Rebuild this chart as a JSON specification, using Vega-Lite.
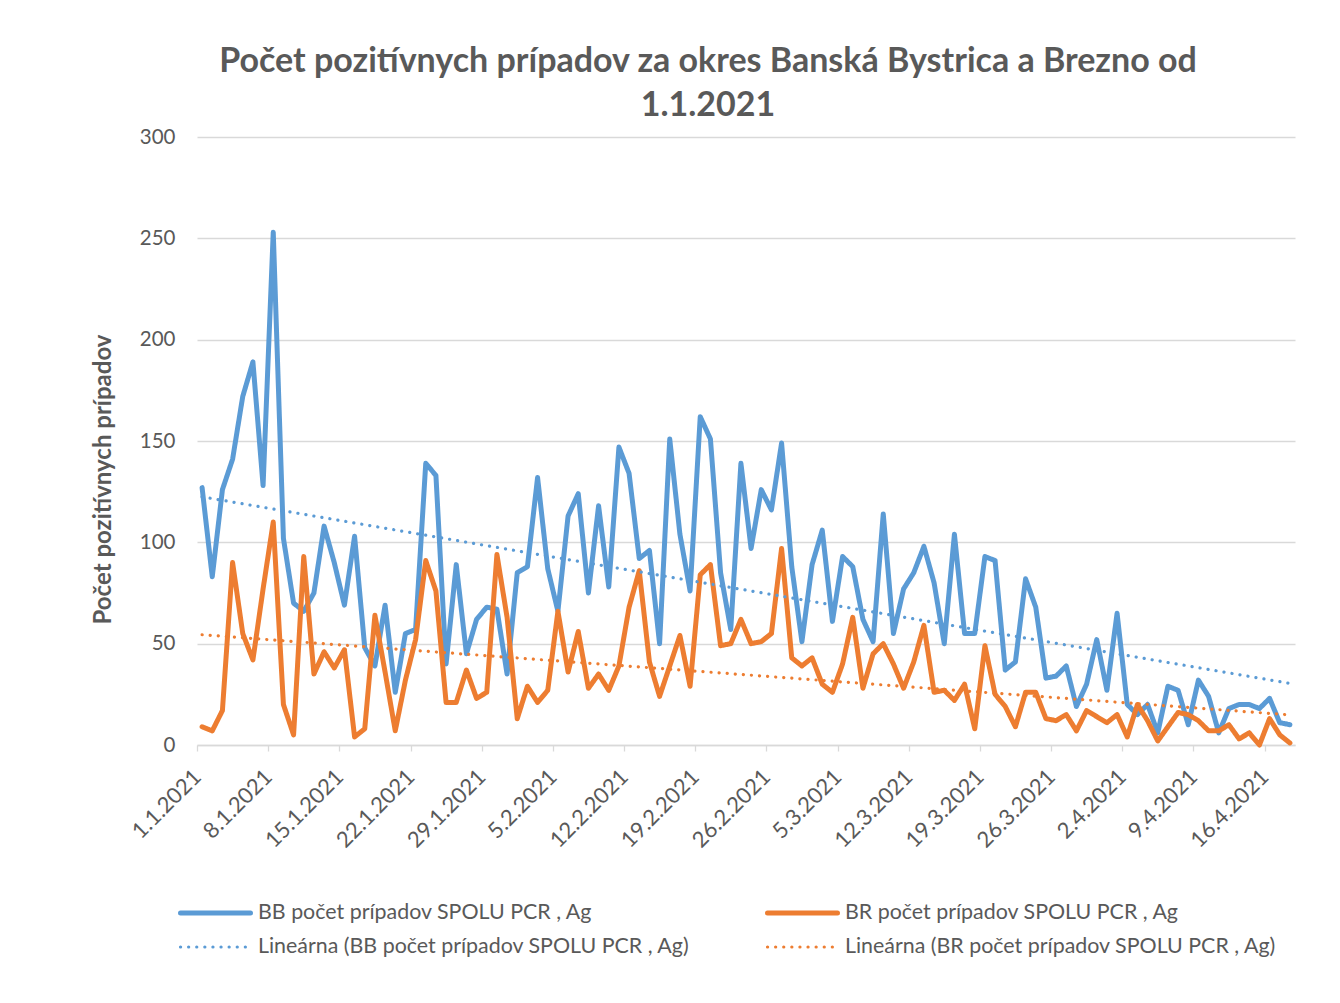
{
"$schema": "https://vega.github.io/schema/vega-lite/v6.json",
"width": 1098, "height": 608,
"autosize": {"type": "none"},
"padding": {"left": 197, "top": 137, "right": 45, "bottom": 258},
"background": "white",
"title": {"text": ["Počet pozitívnych prípadov za okres Banská Bystrica a Brezno od", "1.1.2021"], "font": "Lato", "fontSize": 34, "fontWeight": "bold", "color": "#595959", "anchor": "middle", "dx": -38, "offset": 4, "lineHeight": 44},
"data": {"values": [
{"den":1,"BB":127,"BR":9},{"den":2,"BB":83,"BR":7},{"den":3,"BB":126,"BR":17},{"den":4,"BB":141,"BR":90},{"den":5,"BB":172,"BR":55},{"den":6,"BB":189,"BR":42},{"den":7,"BB":128,"BR":77},{"den":8,"BB":253,"BR":110},{"den":9,"BB":102,"BR":20},{"den":10,"BB":70,"BR":5},
{"den":11,"BB":66,"BR":93},{"den":12,"BB":75,"BR":35},{"den":13,"BB":108,"BR":46},{"den":14,"BB":90,"BR":38},{"den":15,"BB":69,"BR":47},{"den":16,"BB":103,"BR":4},{"den":17,"BB":48,"BR":8},{"den":18,"BB":39,"BR":64},{"den":19,"BB":69,"BR":36},{"den":20,"BB":26,"BR":7},
{"den":21,"BB":55,"BR":32},{"den":22,"BB":57,"BR":52},{"den":23,"BB":139,"BR":91},{"den":24,"BB":133,"BR":76},{"den":25,"BB":40,"BR":21},{"den":26,"BB":89,"BR":21},{"den":27,"BB":45,"BR":37},{"den":28,"BB":62,"BR":23},{"den":29,"BB":68,"BR":26},{"den":30,"BB":67,"BR":94},
{"den":31,"BB":35,"BR":63},{"den":32,"BB":85,"BR":13},{"den":33,"BB":88,"BR":29},{"den":34,"BB":132,"BR":21},{"den":35,"BB":87,"BR":27},{"den":36,"BB":66,"BR":66},{"den":37,"BB":113,"BR":36},{"den":38,"BB":124,"BR":56},{"den":39,"BB":75,"BR":28},{"den":40,"BB":118,"BR":35},
{"den":41,"BB":78,"BR":27},{"den":42,"BB":147,"BR":39},{"den":43,"BB":134,"BR":68},{"den":44,"BB":92,"BR":86},{"den":45,"BB":96,"BR":41},{"den":46,"BB":50,"BR":24},{"den":47,"BB":151,"BR":39},{"den":48,"BB":104,"BR":54},{"den":49,"BB":76,"BR":29},{"den":50,"BB":162,"BR":84},
{"den":51,"BB":151,"BR":89},{"den":52,"BB":85,"BR":49},{"den":53,"BB":57,"BR":50},{"den":54,"BB":139,"BR":62},{"den":55,"BB":97,"BR":50},{"den":56,"BB":126,"BR":51},{"den":57,"BB":116,"BR":55},{"den":58,"BB":149,"BR":97},{"den":59,"BB":88,"BR":43},{"den":60,"BB":51,"BR":39},
{"den":61,"BB":89,"BR":43},{"den":62,"BB":106,"BR":30},{"den":63,"BB":61,"BR":26},{"den":64,"BB":93,"BR":40},{"den":65,"BB":88,"BR":63},{"den":66,"BB":62,"BR":28},{"den":67,"BB":51,"BR":45},{"den":68,"BB":114,"BR":50},{"den":69,"BB":55,"BR":40},{"den":70,"BB":77,"BR":28},
{"den":71,"BB":85,"BR":41},{"den":72,"BB":98,"BR":59},{"den":73,"BB":80,"BR":26},{"den":74,"BB":50,"BR":27},{"den":75,"BB":104,"BR":22},{"den":76,"BB":55,"BR":30},{"den":77,"BB":55,"BR":8},{"den":78,"BB":93,"BR":49},{"den":79,"BB":91,"BR":25},{"den":80,"BB":37,"BR":19},
{"den":81,"BB":41,"BR":9},{"den":82,"BB":82,"BR":26},{"den":83,"BB":68,"BR":26},{"den":84,"BB":33,"BR":13},{"den":85,"BB":34,"BR":12},{"den":86,"BB":39,"BR":15},{"den":87,"BB":19,"BR":7},{"den":88,"BB":30,"BR":17},{"den":89,"BB":52,"BR":14},{"den":90,"BB":27,"BR":11},
{"den":91,"BB":65,"BR":15},{"den":92,"BB":20,"BR":4},{"den":93,"BB":15,"BR":20},{"den":94,"BB":20,"BR":12},{"den":95,"BB":6,"BR":2},{"den":96,"BB":29,"BR":9},{"den":97,"BB":27,"BR":16},{"den":98,"BB":10,"BR":15},{"den":99,"BB":32,"BR":12},{"den":100,"BB":24,"BR":7},
{"den":101,"BB":6,"BR":7},{"den":102,"BB":18,"BR":10},{"den":103,"BB":20,"BR":3},{"den":104,"BB":20,"BR":6},{"den":105,"BB":18,"BR":0},{"den":106,"BB":23,"BR":13},{"den":107,"BB":11,"BR":5},{"den":108,"BB":10,"BR":1}
]},
"encoding": {
 "x": {"field": "den", "type": "quantitative", "scale": {"domain": [0.5, 108.5], "nice": false, "zero": false},
  "axis": {"title": null, "grid": false, "values": [0.5, 7.5, 14.5, 21.5, 28.5, 35.5, 42.5, 49.5, 56.5, 63.5, 70.5, 77.5, 84.5, 91.5, 98.5, 105.5],
   "labelExpr": "timeFormat(datetime(2021, 0, datum.value + 0.5), '%-d.%-m.%Y')"}}
},
"layer": [
 {"mark": {"type": "line", "strokeJoin": "round", "strokeCap": "round"},
  "encoding": {
   "y": {"field": "BB", "type": "quantitative", "title": "Počet pozitívnych prípadov", "scale": {"domain": [0, 300], "nice": false}, "axis": {"values": [0, 50, 100, 150, 200, 250, 300]}},
   "color": {"datum": "BB počet prípadov SPOLU PCR , Ag", "type": "nominal",
     "scale": {"domain": ["BB počet prípadov SPOLU PCR , Ag", "Lineárna (BB počet prípadov SPOLU PCR , Ag)", "BR počet prípadov SPOLU PCR , Ag", "Lineárna (BR počet prípadov SPOLU PCR , Ag)"], "range": ["#5B9BD5", "#5B9BD5", "#ED7D31", "#ED7D31"]},
     "legend": {"title": null, "orient": "none", "legendX": -19, "legendY": 765, "columns": 2, "symbolType": "stroke", "symbolSize": 4900, "labelFont": "Lato", "labelFontSize": 21.4, "labelColor": "#595959", "clipHeight": 22, "rowPadding": 12, "columnPadding": 75, "labelLimit": 0, "labelOffset": 5, "padding": 0,
       "encode": {"symbols": {"update": {"strokeCap": {"value": "round"}}}}}},
   "strokeDash": {"datum": "BB počet prípadov SPOLU PCR , Ag", "type": "nominal",
     "scale": {"domain": ["BB počet prípadov SPOLU PCR , Ag", "Lineárna (BB počet prípadov SPOLU PCR , Ag)", "BR počet prípadov SPOLU PCR , Ag", "Lineárna (BR počet prípadov SPOLU PCR , Ag)"], "range": [[1, 0], [0.1, 8], [1, 0], [0.1, 8]]}},
   "strokeWidth": {"datum": "BB počet prípadov SPOLU PCR , Ag", "type": "nominal",
     "scale": {"type": "ordinal", "domain": ["BB počet prípadov SPOLU PCR , Ag", "Lineárna (BB počet prípadov SPOLU PCR , Ag)", "BR počet prípadov SPOLU PCR , Ag", "Lineárna (BR počet prípadov SPOLU PCR , Ag)"], "range": [5, 3.2, 5, 3.2]}}
  }},
 {"mark": {"type": "line", "strokeJoin": "round", "strokeCap": "round"},
  "encoding": {
   "y": {"field": "BR", "type": "quantitative", "title": "Počet pozitívnych prípadov"},
   "color": {"datum": "BR počet prípadov SPOLU PCR , Ag", "type": "nominal"},
   "strokeDash": {"datum": "BR počet prípadov SPOLU PCR , Ag", "type": "nominal"},
   "strokeWidth": {"datum": "BR počet prípadov SPOLU PCR , Ag", "type": "nominal",
     "scale": {"type": "ordinal", "domain": ["BB počet prípadov SPOLU PCR , Ag", "Lineárna (BB počet prípadov SPOLU PCR , Ag)", "BR počet prípadov SPOLU PCR , Ag", "Lineárna (BR počet prípadov SPOLU PCR , Ag)"], "range": [5, 3.2, 5, 3.2]}}
  }},
 {"transform": [{"regression": "BB", "on": "den"}],
  "mark": {"type": "line", "strokeCap": "round"},
  "encoding": {
   "y": {"field": "BB", "type": "quantitative", "title": "Počet pozitívnych prípadov"},
   "color": {"datum": "Lineárna (BB počet prípadov SPOLU PCR , Ag)", "type": "nominal"},
   "strokeDash": {"datum": "Lineárna (BB počet prípadov SPOLU PCR , Ag)", "type": "nominal"},
   "strokeWidth": {"datum": "Lineárna (BB počet prípadov SPOLU PCR , Ag)", "type": "nominal",
     "scale": {"type": "ordinal", "domain": ["BB počet prípadov SPOLU PCR , Ag", "Lineárna (BB počet prípadov SPOLU PCR , Ag)", "BR počet prípadov SPOLU PCR , Ag", "Lineárna (BR počet prípadov SPOLU PCR , Ag)"], "range": [5, 3.2, 5, 3.2]}}
  }},
 {"transform": [{"regression": "BR", "on": "den"}],
  "mark": {"type": "line", "strokeCap": "round"},
  "encoding": {
   "y": {"field": "BR", "type": "quantitative", "title": "Počet pozitívnych prípadov"},
   "color": {"datum": "Lineárna (BR počet prípadov SPOLU PCR , Ag)", "type": "nominal"},
   "strokeDash": {"datum": "Lineárna (BR počet prípadov SPOLU PCR , Ag)", "type": "nominal"},
   "strokeWidth": {"datum": "Lineárna (BR počet prípadov SPOLU PCR , Ag)", "type": "nominal",
     "scale": {"type": "ordinal", "domain": ["BB počet prípadov SPOLU PCR , Ag", "Lineárna (BB počet prípadov SPOLU PCR , Ag)", "BR počet prípadov SPOLU PCR , Ag", "Lineárna (BR počet prípadov SPOLU PCR , Ag)"], "range": [5, 3.2, 5, 3.2]}}
  }}
],
"config": {
 "view": {"stroke": null},
 "font": "Lato",
 "axis": {"labelFont": "Lato", "titleFont": "Lato", "labelColor": "#595959", "titleColor": "#595959", "domainColor": "#D9D9D9", "tickColor": "#D9D9D9", "gridColor": "#D9D9D9"},
 "axisX": {"labelAngle": -45, "labelAlign": "right", "labelBaseline": "middle", "labelFontSize": 22, "labelPadding": 22, "tickSize": 6, "domainWidth": 1.5, "tickWidth": 1.3, "labelOverlap": false, "labelFlush": false, "labelBound": false},
 "axisY": {"labelFontSize": 20.5, "labelPadding": 22, "domain": false, "ticks": false, "gridWidth": 1.3, "titleFontSize": 24, "titleFontWeight": "bold", "titlePadding": 24, "titleY": 342}
}
}
